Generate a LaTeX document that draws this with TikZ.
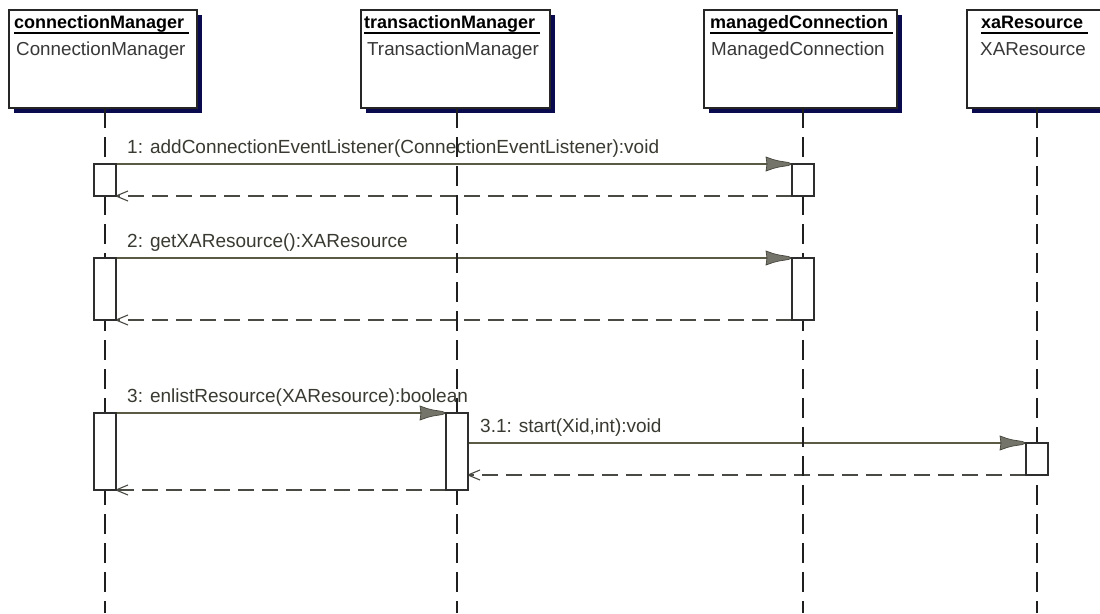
\documentclass[tikz,border=0pt]{standalone}
\usepackage{fontspec}
\setmainfont{Liberation Sans}
\usetikzlibrary{calc,shadows}
\definecolor{shadowblue}{HTML}{0A0A4E}
\definecolor{msgcol}{HTML}{5A5A45}
\definecolor{headfill}{HTML}{74746A}
\definecolor{headdraw}{HTML}{45453C}
\definecolor{retcol}{HTML}{4A4A44}
\definecolor{txtcol}{HTML}{3A3A32}
\tikzset{
  headbox/.style={draw=black!85, line width=1.2pt, fill=white, inner sep=0pt, outer sep=0pt,
    minimum height=98pt, drop shadow={fill=shadowblue, opacity=1, shadow xshift=5pt, shadow yshift=-5pt}},
  objname/.style={font=\fontsize{18}{20}\selectfont\bfseries, inner sep=0pt, anchor=base west, text=black},
  clsname/.style={font=\fontsize{18.8}{20}\selectfont, inner sep=0pt, anchor=base west, text=black!78},
  msglabel/.style={font=\fontsize{19}{20}\selectfont, inner sep=0pt, anchor=base west, text=txtcol},
  lifeline/.style={draw=black!88, line width=1.1pt, dash pattern=on 20pt off 9pt},
  act/.style={draw=black!82, line width=1.2pt, fill=white, minimum width=22pt, inner sep=0pt, outer sep=0pt},
  msg/.style={draw=msgcol, line width=1.3pt},
  ret/.style={draw=retcol, line width=1.3pt, dash pattern=on 16pt off 8pt},
  uline/.style={draw=black, line width=1.1pt},
  fillhead/.pic={\filldraw[fill=headfill, draw=headdraw, line width=0.7pt]
     (0,0) -- (-4,-1.6) -- (-13,-3) -- (-19,-4.5) -- (-26,-7) -- (-25,0) -- (-26,7) -- (-19,4.5) -- (-13,3) -- (-4,1.6) -- cycle;},
  openhead/.pic={\draw[retcol, line width=1.1pt] (12,-5) -- (0,0) -- (12,5);},
}
\begin{document}
\begin{tikzpicture}[x=1pt,y=-1pt]
\useasboundingbox[fill=white] (0,0) rectangle (1100,613);

% heads
\node[headbox, minimum width=188pt] (hcm) at (103,59) {};
\node[headbox, minimum width=189pt] (htm) at (455.5,59) {};
\node[headbox, minimum width=193pt] (hmc) at (800.5,59) {};
\node[headbox, minimum width=160pt] (hxa) at (1047,59) {};

\node[objname] (ncm) at (14,28) {connectionManager};
\node[objname] (ntm) at (364,28) {transactionManager};
\node[objname] (nmc) at (710,28) {managedConnection};
\node[objname] (nxa) at (981,28) {xaResource};
\foreach \n in {ncm,ntm,nmc,nxa}
  \draw[uline] ($(\n.base west)+(0,5)$) -- ($(\n.base east)+(5,5)$);

\node[clsname] (ccm) at (16,55) {ConnectionManager};
\node[clsname] (ctm) at (367,55) {TransactionManager};
\node[clsname] (cmc) at (711,55) {ManagedConnection};
\node[clsname] (cxa) at (980,55) {XAResource};

% bottom ends of lifelines
\coordinate (ecm) at (105,613);
\coordinate (etm) at (457,613);
\coordinate (emc) at (803,613);
\coordinate (exa) at (1037,613);

% activation positions
\node[act, minimum height=32pt] (cm1) at (105,180) {};
\node[act, minimum height=32pt] (mc1) at (803,180) {};
\node[act, minimum height=62pt] (cm2) at (105,289) {};
\node[act, minimum height=62pt] (mc2) at (803,289) {};
\node[act, minimum height=77pt] (cm3) at (105,451.5) {};
\node[act, minimum height=77pt] (tm3) at (457,451.5) {};
\node[act, minimum height=32pt] (xa3) at (1037,459) {};

% messages
\draw[msg] (cm1.north east) -- (mc1.north west);
\path (mc1.north west) pic {fillhead};
\draw[ret] (mc1.south west) -- (cm1.south east);
\path (cm1.south east) pic {openhead};
\node[msglabel] (l1) at (127,153) {1: addConnectionEventListener(ConnectionEventListener):void};

\draw[msg] (cm2.north east) -- (mc2.north west);
\path (mc2.north west) pic {fillhead};
\draw[ret] (mc2.south west) -- (cm2.south east);
\path (cm2.south east) pic {openhead};
\node[msglabel] (l2) at (127,247) {2: getXAResource():XAResource};

\draw[msg] (cm3.north east) -- (tm3.north west);
\path (tm3.north west) pic {fillhead};
\draw[ret] (tm3.south west) -- (cm3.south east);
\path (cm3.south east) pic {openhead};
\node[msglabel] (l3) at (127,402) {3: enlistResource(XAResource):boolean};

\coordinate (s31) at (tm3.east |- xa3.north west);
\coordinate (r31) at (tm3.east |- xa3.south west);
\draw[msg] (s31) -- (xa3.north west);
\path (xa3.north west) pic {fillhead};
\draw[ret] (xa3.south west) -- (r31);
\path (r31) pic {openhead};
\node[msglabel] (l31) at (480,432) {3.1: start(Xid,int):void};

% lifelines
\draw[lifeline] (hcm.south -| ecm) -- (ecm);
\draw[lifeline] (htm.south -| etm) -- (etm);
\draw[lifeline] (hmc.south -| emc) -- (emc);
\draw[lifeline] (hxa.south -| exa) -- (exa);

% activations on top
\foreach \a in {cm1,mc1,cm2,mc2,cm3,tm3,xa3}
  \draw[act] (\a.north west) rectangle (\a.south east);
\end{tikzpicture}
\end{document}
